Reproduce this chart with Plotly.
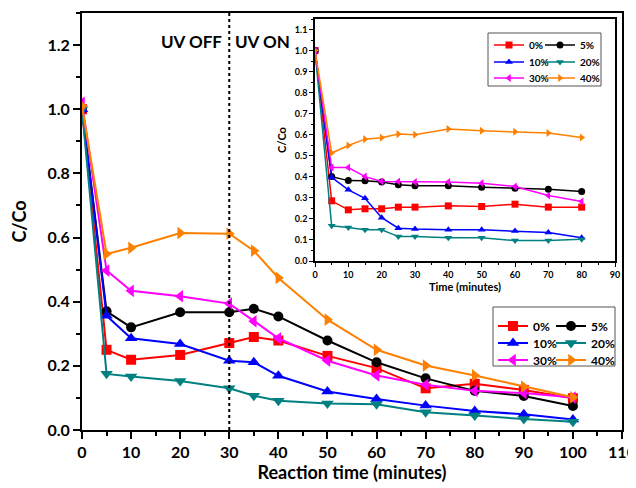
import plotly.graph_objects as go

# ---------------- data ----------------
labels = ["0%", "5%", "10%", "20%", "30%", "40%"]

t_main = [0, 5, 10, 20, 30, 35, 40, 50, 60, 70, 80, 90, 100]
main_0 = [1.00, 0.250, 0.219, 0.234, 0.271, 0.290, 0.279, 0.231, 0.193, 0.130, 0.144, 0.125, 0.099]
main_5 = [1.00, 0.370, 0.320, 0.367, 0.367, 0.378, 0.354, 0.279, 0.211, 0.161, 0.122, 0.106, 0.075]
main_10 = [1.00, 0.356, 0.286, 0.268, 0.216, 0.211, 0.169, 0.120, 0.097, 0.076, 0.059, 0.049, 0.033]
main_20 = [1.00, 0.175, 0.167, 0.153, 0.130, 0.107, 0.091, 0.083, 0.080, 0.055, 0.045, 0.034, 0.026]
main_30 = [1.02, 0.497, 0.434, 0.417, 0.394, 0.339, 0.286, 0.216, 0.170, 0.141, 0.122, 0.115, 0.101]
main_40 = [1.01, 0.549, 0.568, 0.614, 0.612, 0.559, 0.474, 0.344, 0.250, 0.201, 0.170, 0.135, 0.102]

t_inset = [0, 5, 10, 15, 20, 25, 30, 40, 50, 60, 70, 80]
inset_0 = [1.00, 0.286, 0.243, 0.248, 0.248, 0.256, 0.256, 0.262, 0.259, 0.270, 0.256, 0.256]
inset_5 = [1.00, 0.401, 0.382, 0.381, 0.375, 0.362, 0.357, 0.357, 0.351, 0.346, 0.341, 0.330]
inset_10 = [1.00, 0.397, 0.338, 0.298, 0.206, 0.156, 0.152, 0.148, 0.148, 0.143, 0.135, 0.111]
inset_20 = [1.00, 0.167, 0.159, 0.148, 0.148, 0.116, 0.116, 0.111, 0.111, 0.097, 0.097, 0.103]
inset_30 = [1.00, 0.444, 0.444, 0.401, 0.378, 0.378, 0.375, 0.375, 0.370, 0.354, 0.311, 0.283]
inset_40 = [1.00, 0.513, 0.549, 0.579, 0.586, 0.603, 0.600, 0.627, 0.619, 0.614, 0.608, 0.587]

UV_SWITCH = 30

main_series = [main_0, main_5, main_10, main_20, main_30, main_40]
inset_series = [inset_0, inset_5, inset_10, inset_20, inset_30, inset_40]

# ---------------- style ----------------
colors = ["#FF0000", "#000000", "#0000FF", "#008080", "#FF00FF", "#FF8000"]
symbols = ["square", "circle", "triangle-up", "triangle-down", "triangle-left", "triangle-right"]
FONT = "Lato"

OFF = 8  # default page body margin
W, H = 636 - OFF, 488 - OFF
ML, MR, MT, MB = 82 - OFF, 14, 13 - OFF, 58
PW, PH = W - ML - MR, H - MT - MB


def px_x(px):
    return (px - OFF - ML) / PW


def px_y(py):
    return (H - MB - (py - OFF)) / PH


fig = go.Figure()

# legend placement (page pixel positions of each legend entry: left edge, row centre)
main_leg_pos = [(493, 326), (551, 326), (493, 343), (551, 343), (493, 360), (551, 360)]
inset_leg_pos = [(489, 45), (540, 45), (489, 62), (540, 62), (489, 78), (540, 78)]

legends = {}
for i, lab in enumerate(labels):
    key = "legend" if i == 0 else f"legend{i + 1}"
    fig.add_trace(go.Scatter(
        x=t_main, y=main_series[i], name=lab, mode="lines+markers",
        line=dict(color=colors[i], width=2),
        marker=dict(symbol=symbols[i], size=10 if i < 2 else 11, color=colors[i]),
        xaxis="x", yaxis="y", legend=key,
    ))
    lx, ly = main_leg_pos[i]
    legends[key] = dict(x=px_x(lx), y=px_y(ly), xanchor="left", yanchor="middle",
                        bgcolor="rgba(0,0,0,0)", borderwidth=0,
                        font=dict(family=FONT, size=12, color="black", weight="bold"))

for i, lab in enumerate(labels):
    key = f"legend{i + 7}"
    fig.add_trace(go.Scatter(
        x=t_inset, y=inset_series[i], name=lab, mode="lines+markers",
        line=dict(color=colors[i], width=1.5),
        marker=dict(symbol=symbols[i], size=7, color=colors[i]),
        xaxis="x2", yaxis="y2", legend=key,
    ))
    lx, ly = inset_leg_pos[i]
    legends[key] = dict(x=px_x(lx), y=px_y(ly), xanchor="left", yanchor="middle",
                        bgcolor="rgba(0,0,0,0)", borderwidth=0,
                        font=dict(family=FONT, size=10, color="black", weight="bold"))

fig.update_layout(**legends)

# vertical dotted divider
fig.add_shape(type="line", xref="x", yref="y domain", x0=UV_SWITCH, x1=UV_SWITCH,
              y0=0, y1=1, line=dict(color="black", width=2, dash="dot"))

# legend boxes
fig.add_shape(type="rect", xref="paper", yref="paper",
              x0=px_x(493), x1=px_x(615), y0=px_y(366), y1=px_y(307),
              line=dict(color="#555555", width=1), fillcolor="rgba(0,0,0,0)")
fig.add_shape(type="rect", xref="paper", yref="paper",
              x0=px_x(488), x1=px_x(601), y0=px_y(86), y1=px_y(33),
              line=dict(color="#555555", width=1), fillcolor="rgba(0,0,0,0)")

fig.add_annotation(x=UV_SWITCH, y=1.21, xref="x", yref="y", text="UV OFF", showarrow=False,
                   xanchor="right", xshift=-5, font=dict(family=FONT, size=17, color="black", weight="bold"))
fig.add_annotation(x=UV_SWITCH, y=1.21, xref="x", yref="y", text="UV ON", showarrow=False,
                   xanchor="left", xshift=4, font=dict(family=FONT, size=17, color="black", weight="bold"))

axis_common = dict(showgrid=False, zeroline=False, showline=True, linecolor="black",
                   mirror=True, ticks="outside", tickcolor="black", automargin=False)

fig.update_layout(
    width=W, height=H,
    margin=dict(l=ML, r=MR, t=MT, b=MB, autoexpand=False),
    paper_bgcolor="white", plot_bgcolor="white",
    showlegend=True,
    xaxis=dict(**axis_common, range=[0, 110], tick0=0, dtick=10, linewidth=2, tickwidth=2, ticklen=7,
               minor=dict(dtick=5, ticks="outside", ticklen=4, tickwidth=2, tickcolor="black"),
               tickfont=dict(family=FONT, size=16, color="black", weight="bold"),
               title=dict(text="Reaction time (minutes)", standoff=4,
                          font=dict(family=FONT, size=18, color="black", weight="bold"))),
    yaxis=dict(**axis_common, range=[0, 1.3], tick0=0, dtick=0.2, tickformat=".1f", linewidth=2,
               tickwidth=2, ticklen=7,
               minor=dict(dtick=0.1, ticks="outside", ticklen=4, tickwidth=2, tickcolor="black"),
               tickfont=dict(family=FONT, size=16, color="black", weight="bold"),
               title=dict(text="C/Co", standoff=16,
                          font=dict(family=FONT, size=18, color="black", weight="bold"))),
    xaxis2=dict(**axis_common, domain=[px_x(315), px_x(615)], anchor="y2", range=[0, 90],
                tick0=0, dtick=10, linewidth=1.5, tickwidth=1.2, ticklen=4,
                minor=dict(dtick=5, ticks="outside", ticklen=2, tickwidth=1, tickcolor="black"),
                tickfont=dict(family=FONT, size=9, color="black", weight="bold"),
                title=dict(text="Time (minutes)", standoff=4,
                           font=dict(family=FONT, size=11, color="black", weight="bold"))),
    yaxis2=dict(**axis_common, domain=[px_y(261), px_y(19)], anchor="x2", range=[0, 1.15],
                tick0=0, dtick=0.1, tickformat=".1f", linewidth=1.5, tickwidth=1.2, ticklen=4,
                minor=dict(dtick=0.05, ticks="outside", ticklen=2, tickwidth=1, tickcolor="black"),
                tickfont=dict(family=FONT, size=9, color="black", weight="bold"),
                title=dict(text="C/Co", standoff=6,
                           font=dict(family=FONT, size=11, color="black", weight="bold"))),
)

fig.write_html("out.html")
